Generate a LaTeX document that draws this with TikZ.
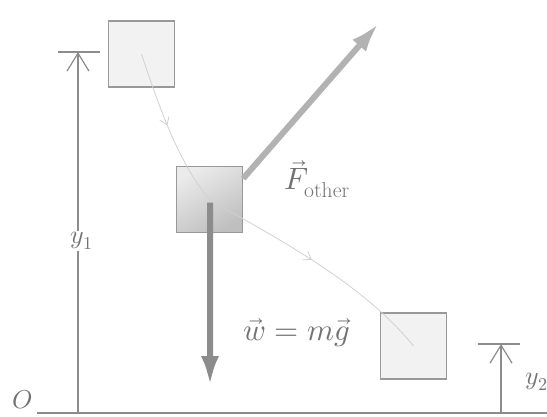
\documentclass[tikz,border=0pt]{standalone}
\usepackage{unicode-math}
\usetikzlibrary{arrows.meta,calc,decorations.markings}
\begin{document}
\begin{tikzpicture}[x=1bp,y=-1bp,
 box/.style={draw=black!40, line width=1.3bp, minimum size=66bp, inner sep=0pt, fill=black!5},
 lab/.style={text=black!55, font=\fontsize{26}{30}\selectfont, inner sep=1bp},
 biglab/.style={lab, font=\fontsize{31}{36}\selectfont},
 dim/.style={draw=black!45, line width=1.2bp},
 barb/.style={-{Straight Barb[length=18bp,width=22bp,line width=1.2bp]}},
 force/.style={line width=6bp, -{Latex[length=30bp,width=18bp]}},
 traj/.style={draw=black!18, line width=0.8bp,
   postaction={decorate, decoration={markings, mark=at position 0.47 with {\arrow{Straight Barb[length=7bp,width=10bp]}}}}}]
\useasboundingbox (0,0) rectangle (547,416);
% boxes
\node[box] (b1) at (141.5,54) {};
\node[box, top color=black!8, bottom color=black!25, shading angle=30] (b2) at (209.5,199.5) {};
\node[box] (b3) at (413.5,346) {};
% trajectory
\draw[traj] (b1.center) .. controls (160,110) and (180,165) .. (b2.center);
\draw[traj] (b2.center) .. controls (270,235) and (360,280) .. (b3.center);
% forces
\coordinate (wtip) at (210,386);
\draw[force, draw=black!45, fill=black!45] ($(b2.center)+(0.5,3)$) -- (wtip);
\coordinate (ftip) at (379,23);
\draw[force, draw=black!30, fill=black!30] ($(b2.east)+(0,-21)$) -- (ftip);
\node[biglab] (fl) at (317,179) {$\vec{F}_{\mathrm{other}}$};
\node[biglab] (wl) at (297,333) {$\vec{w} = m\vec{g}$};
% ground
\coordinate (g0) at (37,413);
\coordinate (g1) at (547,413);
\draw[dim] (g0) -- (g1);
\node[lab] (o) at (22,400) {$O$};
% y1
\coordinate (y1b) at (78,413);
\coordinate (y1t) at (78,52);
\coordinate (t1a) at (58,52);
\coordinate (t1b) at (100,52);
\node[lab] (y1) at (82,241) {$y_1$};
\draw[dim] (y1b) -- (y1b |- y1.south);
\draw[dim, barb] (y1b |- y1.north) -- (y1t);
\draw[dim] (t1a) -- (t1b);
% y2
\coordinate (y2b) at (501,413);
\coordinate (y2t) at (501,344);
\coordinate (t2a) at (478,344);
\coordinate (t2b) at (520,344);
\draw[dim, barb] (y2b) -- (y2t);
\draw[dim] (t2a) -- (t2b);
\node[lab] (y2) at (537,382) {$y_2$};
\end{tikzpicture}
\end{document}
